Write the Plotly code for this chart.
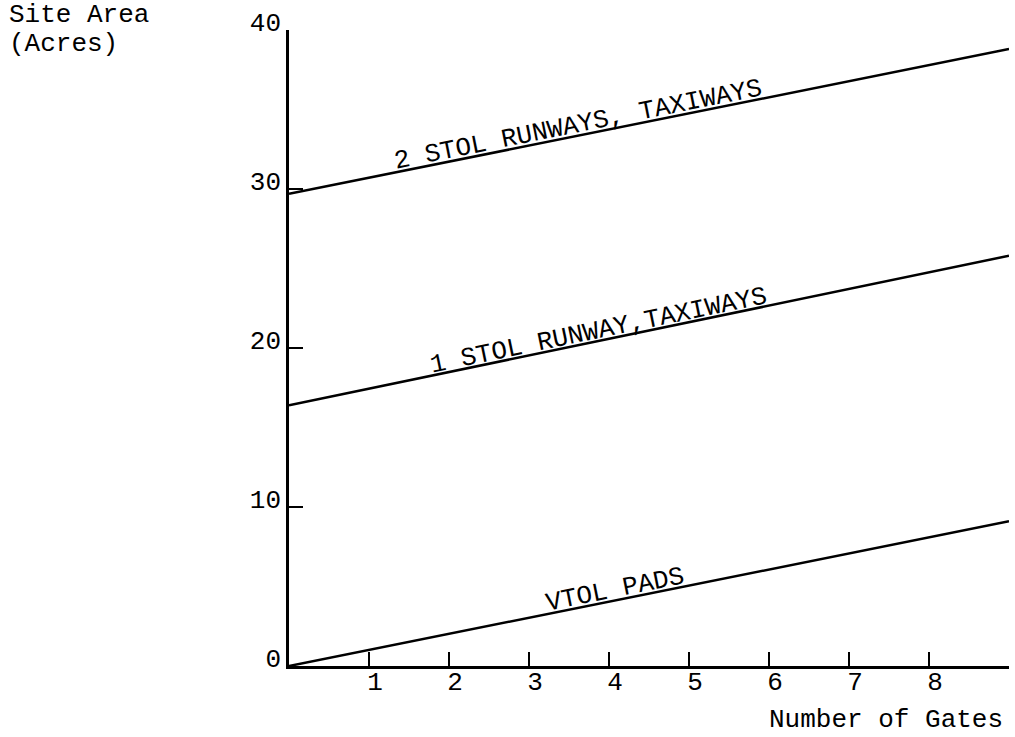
import math
import plotly.graph_objects as go

# Data
gates = [0, 9]
vtol_pads = [0.0, 9.1]
stol_1 = [16.4, 25.8]
stol_2 = [29.7, 38.8]

series_names = ["VTOL PADS", "1 STOL RUNWAY,TAXIWAYS", "2 STOL RUNWAYS, TAXIWAYS"]
series_values = [vtol_pads, stol_1, stol_2]
label_at_gate = [4.1, 3.89, 3.64]

x_tickvals = [1, 2, 3, 4, 5, 6, 7, 8, 9]
x_ticktext = ["1", "2", "3", "4", "5", "6", "7", "8", ""]
y_tickvals = [0, 10, 20, 30, 40]
y_ticktext = ["0", "10", "20", "30", "40"]

FONT = "Liberation Mono"
FS = 26

fig = go.Figure()
for name, vals in zip(series_names, series_values):
    fig.add_trace(go.Scatter(x=gates, y=vals, mode="lines",
                             line=dict(color="black", width=2.5),
                             name=name, showlegend=False, cliponaxis=False))

# Plot geometry (pixels) for slope angles
L, R, T, B = 289, 6, 30, 71
W, H = 1015, 737
pw, ph = W - L - R, H - T - B
xr, yr = (0, 9), (0, 40)

for name, vals, g in zip(series_names, series_values, label_at_gate):
    slope = (vals[1] - vals[0]) / (gates[1] - gates[0])
    yv = vals[0] + slope * (g - gates[0])
    ang = math.degrees(math.atan((slope * ph / (yr[1] - yr[0])) / (pw / (xr[1] - xr[0]))))
    off = 10
    fig.add_annotation(x=g, y=yv, xref="x", yref="y", text=name, showarrow=False,
                       textangle=-ang, font=dict(family=FONT, size=FS, color="black"),
                       xshift=-off * math.sin(math.radians(ang)),
                       yshift=off * math.cos(math.radians(ang)))

fig.add_annotation(xref="paper", yref="paper", x=(7 - L) / pw, y=1 + (T - 15) / ph,
                   xanchor="left", yanchor="middle", text="Site Area", showarrow=False,
                   font=dict(family=FONT, size=FS, color="black"))
fig.add_annotation(xref="paper", yref="paper", x=(7 - L) / pw, y=1 + (T - 44) / ph,
                   xanchor="left", yanchor="middle", text="(Acres)", showarrow=False,
                   font=dict(family=FONT, size=FS, color="black"))
fig.add_annotation(xref="paper", yref="paper", x=(1005 - L) / pw, y=-(720 - (H - B)) / ph,
                   xanchor="right", yanchor="middle", text="Number of Gates", showarrow=False,
                   font=dict(family=FONT, size=FS, color="black"))

fig.update_xaxes(range=list(xr), tickvals=x_tickvals, ticktext=x_ticktext,
                 ticks="inside", ticklen=14, tickwidth=2, tickcolor="black",
                 showline=True, linecolor="black", linewidth=2.5,
                 showgrid=False, zeroline=False,
                 ticklabelshift=6, ticklabelstandoff=-10,
                 tickfont=dict(family=FONT, size=FS, color="black"))
fig.update_yaxes(range=list(yr), tickvals=y_tickvals, ticktext=y_ticktext,
                 ticks="inside", ticklen=14, tickwidth=2, tickcolor="black",
                 showline=True, linecolor="black", linewidth=2.5,
                 showgrid=False, zeroline=False,
                 ticklabelshift=-8, ticklabelstandoff=0,
                 tickfont=dict(family=FONT, size=FS, color="black"))

fig.update_layout(width=W, height=H, margin=dict(l=L, r=R, t=T, b=B, autoexpand=False),
                  paper_bgcolor="white", plot_bgcolor="white")

fig.write_html("out.html", config={"displayModeBar": False},
               post_script="document.body.style.margin='0';document.body.style.overflow='hidden';")
